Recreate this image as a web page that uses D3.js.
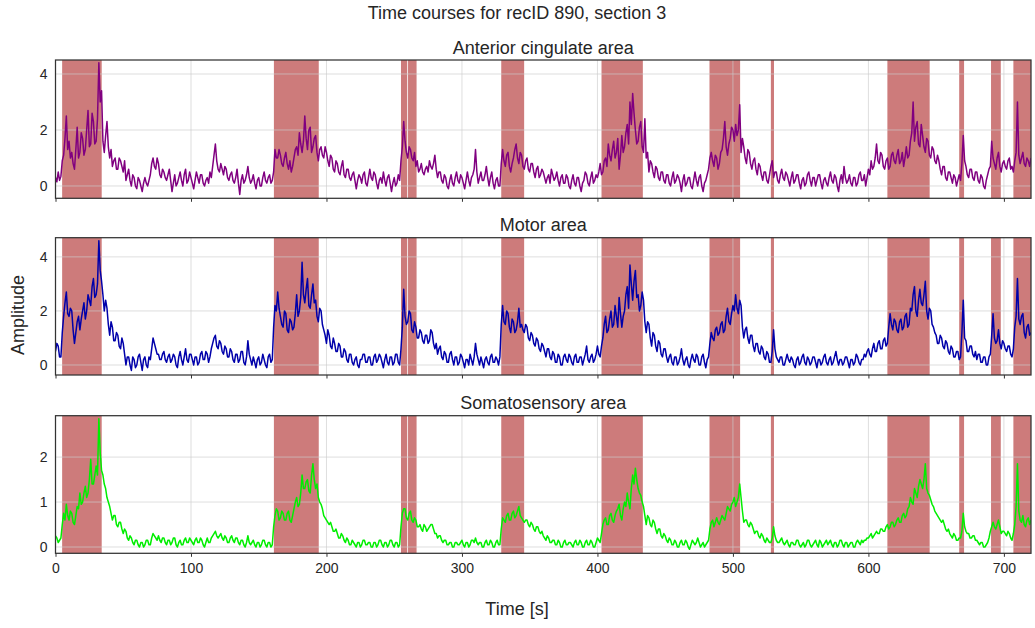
<!DOCTYPE html>
<html lang="en">
<head>
  <meta charset="UTF-8">
  <title>Time courses for recID 890, section 3</title>
  <script src="https://d3js.org/d3.v7.min.js"></script>
  <style>
    body { margin: 0; background: #fff; }
    text { font-family: "Liberation Sans", Arial, sans-serif; fill: #262626; }
  </style>
</head>
<body>
  <svg width="1035" height="628"></svg>
  <script>
    // sampling step of the traces, seconds
    const dt = 1;

    // shaded epochs [start, end] in seconds
    const spanStart = [4.9, 161.2, 255.0, 260.2, 329.0, 403.0, 482.7, 528.0, 614.0, 667.0, 690.5, 707.0];
    const spanEnd   = [34.1, 194.3, 259.6, 266.5, 345.9, 433.5, 505.3, 530.3, 645.2, 670.6, 697.7, 720.0];

    const xTicks = [0, 100, 200, 300, 400, 500, 600, 700];

    // anterior cingulate, one value per second (rows of 20 s)
    const accValues = [
      0.3,0.15,0.5,0.2,0.35,0.9,1.1,1.7,2.5,1.3,1.6,1.0,1.2,0.8,0.6,1.3,2.1,1.0,1.2,1.9,
      1.7,1.1,1.3,2.0,2.7,1.4,1.5,2.6,2.3,1.5,1.6,2.4,4.4,3.0,3.4,1.6,1.2,1.8,2.3,1.4,
      1.0,1.3,0.7,0.9,1.0,0.6,0.6,1.0,0.9,0.7,0.5,0.9,0.2,0.4,0.6,0.2,0.0,0.4,0.3,0.0,
      -0.1,0.3,0.2,0.0,-0.2,0.1,0.3,0.1,0.0,0.2,0.4,0.8,1.0,0.7,0.6,1.0,0.8,0.4,0.3,0.6,
      0.5,0.3,0.2,0.4,0.6,0.2,-0.2,0.1,0.4,0.0,0.1,0.3,0.5,0.2,0.0,0.4,0.6,0.1,0.2,0.5,
      0.3,0.1,-0.1,0.2,0.5,0.3,0.1,0.4,0.4,0.1,0.0,0.2,0.3,0.1,0.5,0.3,0.7,1.1,1.5,0.9,
      0.6,0.5,0.8,0.6,0.4,0.7,0.6,0.3,0.2,0.4,0.5,0.2,0.1,0.3,0.6,0.1,-0.3,0.2,0.4,0.1,
      0.2,0.4,0.7,0.3,0.1,0.2,0.4,0.1,-0.1,0.2,0.3,0.0,0.0,0.3,0.5,0.2,0.1,0.3,0.4,0.1,
      0.2,0.5,1.3,1.0,1.0,1.3,1.1,0.8,0.7,1.0,1.2,0.8,0.6,0.9,0.5,0.7,1.0,1.3,1.4,1.1,
      1.9,1.5,1.2,1.6,2.5,1.7,1.3,2.0,2.1,1.2,1.4,1.7,1.8,1.2,0.9,1.3,1.4,1.1,1.0,1.4,
      1.2,0.9,0.7,1.1,1.0,0.6,0.5,0.9,0.8,0.5,0.4,0.7,0.9,0.4,0.3,0.6,0.6,0.3,0.2,0.4,
      0.5,0.2,-0.1,0.2,0.4,0.3,0.1,0.4,0.5,0.1,0.0,0.3,0.6,0.3,0.2,0.5,0.4,0.1,-0.1,0.2,
      0.3,0.1,0.5,0.2,0.0,0.3,0.4,0.1,-0.2,0.1,0.3,0.0,0.1,0.4,0.2,0.9,1.4,2.3,1.6,1.2,
      1.0,1.4,1.3,1.0,0.9,1.2,0.7,0.9,0.5,0.6,0.8,0.5,0.4,0.6,0.7,0.5,0.9,0.7,0.6,0.8,
      1.1,0.6,0.3,0.5,0.5,0.2,0.1,0.4,0.3,0.0,-0.1,0.2,0.4,0.1,0.0,0.3,0.5,0.2,0.1,0.4,
      0.3,0.1,-0.1,0.2,0.5,0.2,0.0,0.3,0.4,0.6,1.3,0.5,0.1,0.3,0.5,0.2,0.2,0.4,0.7,0.3,
      0.0,0.3,0.5,0.1,-0.1,0.2,0.3,0.0,0.0,0.8,1.3,0.9,0.7,1.1,1.2,0.7,0.5,0.8,1.0,1.3,
      1.5,1.0,0.8,1.2,1.1,0.7,0.6,0.9,1.0,0.6,0.5,0.8,0.8,0.5,0.3,0.6,0.7,0.3,0.4,0.6,
      0.5,0.3,0.1,0.3,0.4,0.1,0.6,0.4,0.2,0.3,0.5,0.2,0.0,0.3,0.4,0.1,0.1,0.4,0.3,0.0,
      -0.1,0.2,0.4,0.1,0.0,0.3,0.3,0.0,-0.2,0.1,0.2,0.5,0.4,0.1,0.0,0.3,0.5,0.1,0.2,0.4,
      0.3,0.5,0.8,0.4,0.5,0.9,1.0,0.7,1.5,1.1,0.9,1.3,1.6,1.0,1.2,1.7,0.6,1.1,1.8,1.2,
      1.4,1.9,2.2,1.5,3.0,2.2,3.3,2.6,2.0,1.5,1.6,2.1,2.3,1.4,1.2,2.4,1.0,1.2,0.5,0.9,
      0.8,0.5,0.3,0.7,0.6,0.3,0.2,0.5,0.5,0.2,0.1,0.4,0.4,0.1,0.0,0.3,0.5,0.1,0.2,0.4,
      0.3,0.1,-0.2,0.2,0.4,0.0,0.1,0.3,0.3,0.0,-0.1,0.2,0.5,0.2,0.0,0.3,0.4,0.0,-0.2,0.1,
      0.2,0.4,0.6,1.0,1.2,0.9,0.7,1.1,1.0,0.6,0.8,1.2,1.3,1.7,2.3,1.4,1.1,1.5,1.7,2.1,
      2.0,1.6,2.2,1.8,2.0,2.9,1.2,1.7,1.4,1.0,0.8,1.3,1.2,0.8,0.6,0.9,1.0,0.6,0.4,0.8,
      0.7,0.4,0.2,0.5,0.5,0.2,0.1,0.4,0.7,0.9,0.3,0.5,0.5,0.2,0.1,0.4,0.6,0.3,0.2,0.5,
      0.4,0.2,0.0,0.3,0.5,0.1,0.2,0.4,0.4,0.1,-0.1,0.2,0.3,0.0,0.1,0.4,0.5,0.2,0.0,0.3,
      0.3,0.0,0.2,0.4,0.4,0.1,-0.1,0.2,0.3,0.1,0.0,0.3,0.5,0.2,0.1,0.4,0.3,0.0,-0.2,0.2,
      0.4,0.1,0.7,0.3,0.1,0.2,0.4,0.1,0.0,0.3,0.3,0.0,0.1,0.4,0.5,0.2,0.2,0.4,0.0,0.3,
      0.6,0.4,0.9,0.6,0.7,1.0,1.5,0.9,0.8,1.2,1.1,0.7,0.6,0.9,1.0,0.6,0.7,1.1,1.2,0.9,
      0.8,1.1,1.3,0.8,0.9,1.2,0.7,1.0,1.4,1.0,1.1,1.6,1.9,3.0,1.6,2.1,2.3,1.5,1.4,2.2,
      1.8,1.4,1.2,1.7,1.6,1.1,1.0,1.4,1.3,0.9,0.8,1.1,0.9,0.6,0.4,0.7,0.7,0.3,0.2,0.5,
      0.5,0.3,0.1,0.4,0.3,0.0,0.2,0.4,0.2,0.8,1.8,0.9,0.7,0.4,0.3,0.6,0.6,0.3,0.2,0.5,
      0.5,0.2,0.1,0.4,0.3,0.0,-0.1,0.2,0.4,0.6,0.7,1.6,1.0,0.8,0.6,1.0,1.2,0.7,0.5,0.8,
      0.9,0.7,0.6,0.9,1.0,0.6,0.7,0.5,0.9,1.2,3.0,1.1,0.8,1.0,1.2,0.8,0.7,1.0,0.9,0.7,
      1.0
    ];

    // motor area
    const motorValues = [
      0.5,0.8,0.7,0.3,0.3,1.2,1.8,2.3,2.7,1.9,1.8,2.1,2.0,1.3,0.8,1.2,1.6,1.8,1.3,1.7,
      2.0,2.3,1.7,2.0,2.6,2.4,2.2,2.9,3.2,2.5,2.6,3.0,4.6,3.5,3.1,2.6,2.0,2.4,2.1,1.5,
      1.1,1.6,1.4,0.9,0.9,1.2,1.1,0.7,0.6,1.0,0.8,0.4,0.0,0.3,0.3,0.0,-0.2,0.3,0.2,-0.1,
      0.0,0.3,0.4,0.1,-0.2,0.2,0.3,0.0,-0.1,0.3,0.2,0.6,1.0,0.8,0.6,0.4,0.4,0.2,0.2,0.4,
      0.5,0.2,0.1,0.3,0.4,0.1,0.2,0.4,0.3,0.0,-0.1,0.3,0.5,0.2,0.0,0.3,0.6,0.2,0.1,0.4,
      0.4,0.2,0.0,0.3,0.3,0.0,0.1,0.4,0.5,0.2,0.2,0.5,0.4,0.1,0.3,0.6,0.8,1.0,1.1,0.7,
      0.6,0.9,0.8,0.5,0.4,0.7,0.6,0.3,0.3,0.6,0.5,0.2,0.1,0.4,0.4,0.1,0.2,0.5,0.5,0.1,
      0.0,0.3,0.9,0.4,0.2,0.0,0.3,0.1,-0.1,0.2,0.3,0.0,0.1,0.4,0.2,0.0,-0.1,0.3,0.4,0.1,
      0.2,1.4,2.2,2.0,2.7,2.1,1.8,1.5,1.4,2.0,1.9,1.3,1.2,1.7,1.6,1.3,1.4,1.9,2.6,1.8,
      2.0,2.5,3.8,2.6,2.3,2.8,3.2,2.2,2.1,2.6,3.0,2.3,2.4,1.8,1.6,2.1,2.0,1.5,1.3,1.1,
      0.8,1.3,1.1,0.7,0.6,1.0,0.8,0.5,0.5,0.8,0.7,0.3,0.3,0.6,0.5,0.2,0.1,0.4,0.4,0.1,
      0.0,0.2,0.3,0.0,-0.1,0.2,0.2,0.4,0.4,0.1,0.1,0.3,0.3,0.0,0.0,0.3,0.4,0.1,0.2,0.4,
      0.3,0.1,-0.1,0.2,0.4,0.1,0.0,0.3,0.3,0.0,0.1,0.4,0.4,0.1,0.0,0.6,1.4,2.8,1.8,1.5,
      1.6,2.0,1.9,1.3,1.2,1.6,1.4,1.0,1.0,1.3,1.2,0.9,0.8,1.1,1.1,0.8,0.9,1.3,1.2,0.8,
      0.6,0.8,0.4,0.6,0.7,0.3,0.2,0.5,0.4,0.1,0.1,0.4,0.5,0.2,0.0,0.3,0.3,0.0,0.1,0.4,
      0.3,0.1,-0.1,0.2,0.2,0.0,0.4,0.2,0.0,0.3,0.8,0.4,0.2,0.0,0.3,0.1,-0.1,0.2,0.3,0.1,
      0.0,0.3,0.4,0.1,0.1,0.3,0.2,0.0,0.3,1.5,2.2,1.6,1.5,2.0,1.9,1.4,1.2,1.7,1.6,1.2,
      1.3,1.6,2.1,1.4,1.5,1.3,1.2,1.5,1.4,1.0,0.9,1.2,1.1,0.8,0.7,1.0,0.9,0.6,0.5,0.8,
      0.7,0.5,0.3,0.6,0.6,0.3,0.2,0.5,0.4,0.1,0.1,0.4,0.3,0.0,0.0,0.3,0.4,0.2,0.1,0.4,
      0.3,0.1,0.0,0.3,0.4,0.1,0.1,0.3,0.3,0.0,0.2,0.4,0.7,0.2,0.1,0.3,0.4,0.1,0.2,0.4,
      0.7,0.4,0.3,0.7,1.0,1.5,1.8,1.2,1.3,1.7,2.0,1.4,1.5,2.2,1.8,1.4,2.5,1.9,1.4,1.8,
      2.0,2.6,2.9,2.1,3.7,3.0,2.4,3.1,3.5,2.5,2.6,2.0,2.2,2.7,2.4,1.6,1.2,1.6,1.5,1.0,
      0.7,1.2,1.1,0.7,0.5,0.9,0.8,0.4,0.3,0.6,0.6,0.3,0.1,0.3,0.4,0.1,0.0,0.3,0.3,0.0,
      0.1,0.3,0.6,0.2,0.0,0.2,0.3,0.0,-0.1,0.2,0.4,0.2,0.1,0.4,0.3,0.0,0.0,0.3,0.4,0.1,
      -0.1,0.2,0.3,0.8,1.2,1.0,0.9,1.3,1.4,1.1,1.2,1.5,1.6,1.2,1.3,1.8,2.1,1.6,1.5,1.9,
      2.2,2.0,2.6,2.1,1.9,2.4,2.2,1.4,1.0,1.3,1.4,1.0,0.8,1.1,1.1,0.7,0.5,0.8,0.8,0.5,
      0.4,0.7,0.6,0.3,0.2,0.5,0.4,0.1,0.1,0.5,1.3,0.6,0.3,0.2,0.1,0.3,0.3,0.0,0.0,0.2,
      0.4,0.2,0.1,0.3,0.2,0.0,-0.1,0.2,0.3,0.0,0.1,0.3,0.4,0.1,0.0,0.3,0.2,0.0,0.1,0.3,
      0.3,0.1,-0.1,0.2,0.2,0.0,0.1,0.3,0.4,0.1,0.0,0.2,0.3,0.0,0.1,0.3,0.5,0.2,0.0,0.2,
      0.2,0.0,0.1,0.3,0.3,0.1,-0.1,0.2,0.2,0.0,0.1,0.4,0.3,0.1,0.0,0.2,0.2,0.4,0.3,0.5,
      0.6,0.4,0.3,0.6,0.8,0.5,0.5,0.8,0.9,0.6,0.6,0.9,1.0,0.7,0.8,1.4,1.9,1.5,1.3,1.7,
      1.6,1.3,1.2,1.6,1.7,1.3,1.4,1.8,1.9,1.4,1.5,2.1,2.0,2.6,2.9,2.0,1.8,2.4,2.8,2.3,
      2.2,2.6,3.1,2.0,1.7,2.1,2.0,1.5,1.4,1.2,1.1,0.8,0.8,1.1,1.0,0.7,0.6,0.9,0.8,0.5,
      0.4,0.7,0.6,0.3,0.3,0.5,0.5,0.2,0.3,1.2,2.4,1.0,0.9,0.5,0.5,0.7,0.7,0.4,0.3,0.5,
      0.2,0.4,0.4,0.1,0.1,0.3,0.3,0.0,0.0,0.3,0.4,1.1,1.9,1.0,0.8,0.9,1.3,0.8,0.6,0.9,
      0.8,0.6,0.5,0.7,0.7,0.4,0.3,0.6,1.4,1.8,3.2,1.7,1.5,1.8,1.9,1.2,1.0,1.4,1.5,1.1,
      1.2
    ];

    // somatosensory area
    const somatoValues = [
      0.25,0.2,0.1,0.15,0.2,0.5,0.75,0.6,0.95,0.7,0.6,0.8,0.75,0.55,0.5,0.7,0.9,0.85,1.2,0.95,
      1.0,1.2,1.35,1.1,1.2,1.5,1.95,1.4,1.4,1.6,1.8,1.6,2.85,2.1,1.7,1.6,1.4,1.3,1.1,1.0,
      0.9,0.75,0.6,0.7,0.7,0.5,0.45,0.55,0.55,0.4,0.3,0.4,0.35,0.2,0.15,0.25,0.2,0.1,0.05,0.15,
      0.15,0.05,0.0,0.1,0.1,0.0,0.05,0.15,0.15,0.05,0.05,0.2,0.3,0.25,0.2,0.15,0.25,0.15,0.1,0.2,
      0.2,0.1,0.05,0.15,0.15,0.05,0.1,0.2,0.2,0.05,0.0,0.1,0.15,0.05,0.05,0.15,0.2,0.1,0.1,0.2,
      0.15,0.1,0.05,0.15,0.2,0.1,0.1,0.2,0.15,0.05,0.0,0.1,0.2,0.1,0.1,0.2,0.25,0.3,0.35,0.25,
      0.2,0.25,0.3,0.2,0.15,0.25,0.2,0.1,0.1,0.2,0.25,0.15,0.1,0.2,0.2,0.1,0.05,0.15,0.15,0.05,
      0.0,0.1,0.25,0.1,0.05,0.1,0.15,0.05,0.0,0.1,0.1,0.0,0.05,0.15,0.15,0.05,0.0,0.1,0.1,0.0,
      0.05,0.45,0.7,0.85,0.8,0.6,0.65,0.8,0.75,0.6,0.6,0.75,0.8,0.6,0.55,0.7,0.85,1.0,1.1,0.9,
      0.95,1.2,1.6,1.3,1.3,1.45,1.5,1.25,1.2,1.6,1.85,1.5,1.3,1.4,1.1,1.0,0.95,0.85,0.7,0.65,
      0.6,0.55,0.5,0.55,0.45,0.35,0.35,0.4,0.3,0.2,0.2,0.3,0.25,0.15,0.1,0.2,0.15,0.05,0.05,0.15,
      0.1,0.05,0.0,0.1,0.1,0.0,0.05,0.15,0.15,0.05,0.05,0.1,0.1,0.0,0.0,0.1,0.1,0.0,0.05,0.15,
      0.15,0.05,0.0,0.1,0.1,0.0,0.05,0.15,0.15,0.05,0.0,0.1,0.1,0.0,0.05,0.45,0.75,0.85,0.85,0.65,
      0.6,0.75,0.8,0.6,0.55,0.65,0.6,0.45,0.45,0.5,0.4,0.35,0.5,0.45,0.35,0.4,0.45,0.5,0.5,0.4,
      0.3,0.3,0.2,0.25,0.25,0.15,0.1,0.15,0.15,0.05,0.05,0.1,0.1,0.0,0.0,0.1,0.1,0.05,0.05,0.1,
      0.15,0.05,0.0,0.1,0.1,0.0,0.05,0.15,0.15,0.1,0.2,0.1,0.05,0.1,0.1,0.0,0.0,0.1,0.15,0.05,
      0.05,0.15,0.1,0.0,0.0,0.1,0.15,0.05,0.05,0.4,0.65,0.6,0.55,0.7,0.75,0.6,0.6,0.75,0.8,0.65,
      0.7,0.8,0.9,0.7,0.65,0.6,0.55,0.6,0.6,0.5,0.45,0.55,0.5,0.4,0.35,0.45,0.45,0.35,0.3,0.35,
      0.25,0.2,0.15,0.25,0.2,0.1,0.1,0.15,0.15,0.05,0.05,0.15,0.1,0.0,0.0,0.1,0.15,0.05,0.05,0.1,
      0.1,0.05,0.0,0.1,0.15,0.05,0.05,0.15,0.1,0.0,0.0,0.1,0.15,0.05,0.05,0.15,0.1,0.0,0.0,0.1,
      0.2,0.15,0.1,0.3,0.5,0.6,0.65,0.5,0.5,0.7,0.75,0.6,0.55,0.7,0.8,0.85,0.95,0.7,0.6,0.85,
      1.0,0.9,1.2,1.0,0.85,1.3,1.6,1.4,1.75,1.5,1.3,1.2,1.15,1.0,0.9,0.7,0.5,0.7,0.65,0.5,
      0.45,0.6,0.55,0.4,0.3,0.4,0.4,0.25,0.2,0.3,0.25,0.15,0.1,0.2,0.15,0.05,0.05,0.15,0.1,0.0,
      0.0,0.1,0.15,0.05,0.05,0.15,0.1,0.0,-0.05,0.05,0.15,0.1,0.05,0.1,0.2,0.1,0.0,0.05,0.1,0.0,
      0.05,0.1,0.15,0.4,0.55,0.6,0.45,0.55,0.65,0.55,0.5,0.6,0.7,0.65,0.6,0.75,0.9,0.85,0.8,0.95,
      1.0,1.1,0.9,1.0,1.1,1.4,1.1,0.8,0.55,0.6,0.6,0.5,0.45,0.55,0.5,0.4,0.3,0.35,0.35,0.25,
      0.2,0.3,0.25,0.15,0.1,0.2,0.15,0.1,0.1,0.2,0.45,0.25,0.15,0.1,0.1,0.15,0.2,0.1,0.05,0.1,
      0.15,0.05,0.0,0.1,0.1,0.05,0.05,0.15,0.15,0.05,0.0,0.05,0.1,0.0,0.05,0.15,0.15,0.05,0.0,0.05,
      0.1,0.15,0.05,0.0,0.15,0.1,0.0,0.05,0.1,0.15,0.05,0.1,0.15,0.05,0.0,0.1,0.1,0.0,0.05,0.15,
      0.15,0.05,0.0,0.1,0.1,0.0,0.05,0.1,0.1,0.0,0.0,0.1,0.15,0.1,0.05,0.15,0.1,0.15,0.15,0.2,
      0.2,0.25,0.3,0.2,0.25,0.3,0.35,0.3,0.3,0.4,0.4,0.35,0.35,0.45,0.5,0.4,0.45,0.55,0.55,0.45,
      0.5,0.6,0.65,0.55,0.55,0.7,0.75,0.65,0.7,0.85,0.9,1.1,1.0,0.95,1.3,1.2,1.1,1.35,1.5,1.4,
      1.3,1.5,1.85,1.3,1.2,1.15,1.05,0.95,0.9,0.8,0.75,0.7,0.65,0.6,0.55,0.6,0.5,0.4,0.35,0.4,
      0.3,0.25,0.2,0.3,0.25,0.15,0.15,0.2,0.2,0.35,0.75,0.45,0.35,0.3,0.3,0.2,0.2,0.25,0.25,0.15,
      0.15,0.1,0.05,0.1,0.1,0.0,0.0,0.05,0.1,0.2,0.35,0.45,0.55,0.45,0.4,0.5,0.6,0.45,0.3,0.35,
      0.35,0.3,0.25,0.35,0.3,0.2,0.15,0.3,0.5,0.9,1.85,0.8,0.6,0.55,0.7,0.5,0.45,0.6,0.65,0.5,
      0.6
    ];

    const panels = [
      { title: "Anterior cingulate area", values: accValues, color: "#800080",
        domain: [-0.44, 4.5], top: 60, bottom: 198.3, ticks: [0, 2, 4] },
      { title: "Motor area", values: motorValues, color: "#0000aa",
        domain: [-0.37, 4.71], top: 237.7, bottom: 375, ticks: [0, 2, 4] },
      { title: "Somatosensory area", values: somatoValues, color: "#00ee00",
        domain: [-0.14, 2.92], top: 415.7, bottom: 553.3, ticks: [0, 1, 2] }
    ];

    const svg = d3.select("svg");
    const left = 55.5, right = 1031;
    const x = d3.scaleLinear().domain([0, 720]).range([left, right]);

    svg.append("text")
      .attr("x", 517).attr("y", 18.5)
      .attr("text-anchor", "middle")
      .attr("font-size", 18)
      .text("Time courses for recID 890, section 3");

    panels.forEach((p, k) => {
      const y = d3.scaleLinear().domain(p.domain).range([p.bottom, p.top]);
      const g = svg.append("g");

      g.append("clipPath").attr("id", "clip" + k)
        .append("rect")
          .attr("x", left).attr("y", p.top)
          .attr("width", right - left).attr("height", p.bottom - p.top);

      // stimulation epochs
      g.append("g").selectAll("rect")
        .data(spanStart)
        .join("rect")
          .attr("x", d => x(d))
          .attr("width", (d, i) => x(spanEnd[i]) - x(d))
          .attr("y", p.top)
          .attr("height", p.bottom - p.top)
          .attr("fill", "#cd7b7b");

      // grid
      g.append("g")
          .attr("stroke", "#cccccc")
          .attr("stroke-opacity", 0.65)
          .attr("stroke-width", 1)
        .call(sel => sel.selectAll("line.v").data(xTicks).join("line")
          .attr("class", "v")
          .attr("x1", d => x(d)).attr("x2", d => x(d))
          .attr("y1", p.top).attr("y2", p.bottom))
        .call(sel => sel.selectAll("line.h").data(p.ticks).join("line")
          .attr("class", "h")
          .attr("x1", left).attr("x2", right)
          .attr("y1", d => y(d)).attr("y2", d => y(d)));

      // trace
      g.append("path")
        .datum(p.values)
        .attr("clip-path", `url(#clip${k})`)
        .attr("fill", "none")
        .attr("stroke", p.color)
        .attr("stroke-width", 1.5)
        .attr("stroke-linejoin", "round")
        .attr("d", d3.line().x((d, i) => x(i * dt)).y(d => y(d)));

      // frame
      g.append("rect")
        .attr("x", left).attr("y", p.top)
        .attr("width", right - left).attr("height", p.bottom - p.top)
        .attr("fill", "none")
        .attr("stroke", "#333")
        .attr("stroke-width", 1.25);

      // x ticks
      const xa = g.append("g")
        .attr("transform", `translate(0,${p.bottom})`)
        .call(d3.axisBottom(x).tickValues(xTicks).tickSize(3.5).tickPadding(6)
          .tickFormat(k === 2 ? d3.format("d") : ""));
      xa.select(".domain").remove();
      xa.selectAll(".tick line").attr("stroke", "#333");
      xa.selectAll("text").attr("font-size", 14).attr("fill", "#262626");

      // y ticks
      const ya = g.append("g")
        .attr("transform", `translate(${left},0)`)
        .call(d3.axisLeft(y).tickValues(p.ticks).tickSize(0).tickPadding(8).tickFormat(d3.format("d")));
      ya.select(".domain").remove();
      ya.selectAll("text").attr("font-size", 14).attr("fill", "#262626");

      svg.append("text")
        .attr("x", (left + right) / 2).attr("y", p.top - 6.5)
        .attr("text-anchor", "middle")
        .attr("font-size", 18)
        .text(p.title);
    });

    svg.append("text")
      .attr("transform", "translate(24,315) rotate(-90)")
      .attr("text-anchor", "middle")
      .attr("font-size", 18)
      .text("Amplitude");

    svg.append("text")
      .attr("x", 517).attr("y", 614.5)
      .attr("text-anchor", "middle")
      .attr("font-size", 18)
      .text("Time [s]");
  </script>
</body>
</html>
